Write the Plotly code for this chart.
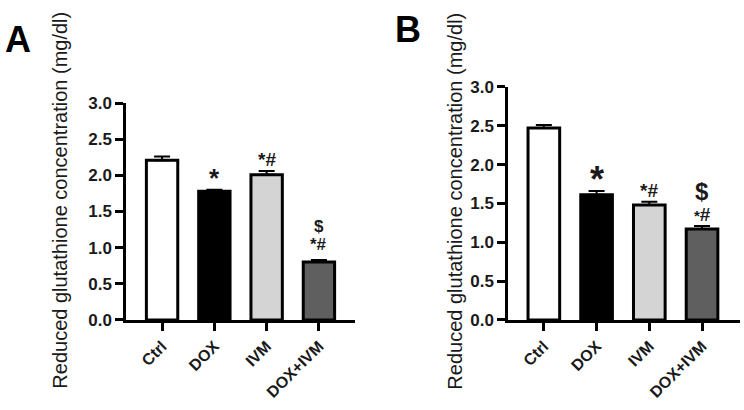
import plotly.graph_objects as go

categories = ["Ctrl", "DOX", "IVM", "DOX+IVM"]
values_a = [2.21, 1.78, 2.01, 0.80]
errors_a = [0.05, 0.02, 0.05, 0.03]
values_b = [2.47, 1.61, 1.48, 1.17]
errors_b = [0.04, 0.05, 0.04, 0.04]
bar_colors = ["#ffffff", "#000000", "#d4d4d4", "#5f5f5f"]
y_ticks = [0.0, 0.5, 1.0, 1.5, 2.0, 2.5, 3.0]
y_title = "Reduced glutathione concentration (mg/dl)"

# significance marks: (category index, y value, text, font size)
marks_a = [(1, 1.96, "*", 26), (2, 2.22, "*#", 19), (3, 1.29, "$", 17), (3, 1.04, "*#", 17)]
marks_b = [(1, 1.81, "*", 36), (2, 1.67, "*#", 19), (3, 1.65, "$", 24),
           (3, 1.36, "<span style='font-size:15px'>*</span>#", 19)]

FONT = "Liberation Sans, Arial, sans-serif"

fig = go.Figure()
for vals, errs, xa, ya in [(values_a, errors_a, "x", "y"), (values_b, errors_b, "x2", "y2")]:
    fig.add_trace(go.Bar(
        x=list(range(len(categories))), y=vals, xaxis=xa, yaxis=ya,
        width=0.6,
        marker=dict(color=bar_colors, line=dict(color="black", width=3)),
        error_y=dict(type="data", array=errs, arrayminus=[0] * len(errs), symmetric=False,
                     color="black", thickness=2, width=8),
        showlegend=False,
    ))

axis_common = dict(showline=True, linecolor="black", linewidth=2.5, ticks="outside",
                   ticklen=8, tickwidth=2.5, tickcolor="black", showgrid=False, zeroline=False)

xtick_font = dict(size=16, family=FONT, weight="bold", color="#1a1a1a")
ytick_font = dict(size=17, family=FONT, weight="bold", color="#1a1a1a")

fig.update_layout(
    width=744, height=410,
    margin=dict(l=0, r=0, t=0, b=0),
    paper_bgcolor="white", plot_bgcolor="white",
    font=dict(family=FONT, color="#1a1a1a"),
    xaxis=dict(domain=[126 / 744, 355 / 744], range=[-0.69, 3.69],
               tickvals=list(range(len(categories))), ticktext=categories, tickangle=-45,
               tickfont=xtick_font, anchor="y", **axis_common),
    yaxis=dict(domain=[1 - 326 / 410, 1 - 98.7 / 410], range=[0, 3], tickvals=y_ticks,
               tickformat=".1f", tickfont=ytick_font, anchor="x", **axis_common),
    xaxis2=dict(domain=[508 / 744, 740 / 744], range=[-0.68, 3.72],
                tickvals=list(range(len(categories))), ticktext=categories, tickangle=-45,
                tickfont=xtick_font, anchor="y2", **axis_common),
    yaxis2=dict(domain=[1 - 326 / 410, 1 - 81.7 / 410], range=[0, 3], tickvals=y_ticks,
                tickformat=".1f", tickfont=ytick_font, anchor="x2", **axis_common),
)

annotations = []
for marks, xr, yr in [(marks_a, "x", "y"), (marks_b, "x2", "y2")]:
    for idx, yv, txt, sz in marks:
        annotations.append(dict(x=idx, y=yv, xref=xr, yref=yr, text="<b>" + txt + "</b>",
                                showarrow=False, xanchor="center", yanchor="middle",
                                font=dict(size=sz, family=FONT, color="#1a1a1a")))

annotations += [
    dict(x=60 / 744, y=1 - 201 / 410, xref="paper", yref="paper", text=y_title, textangle=-90,
         showarrow=False, xanchor="center", yanchor="middle",
         font=dict(size=20, family=FONT, color="#1a1a1a")),
    dict(x=455 / 744, y=1 - 202 / 410, xref="paper", yref="paper", text=y_title, textangle=-90,
         showarrow=False, xanchor="center", yanchor="middle",
         font=dict(size=20, family=FONT, color="#1a1a1a")),
    dict(x=17.5 / 744, y=1 - 31.5 / 410, xref="paper", yref="paper", text="<b>A</b>",
         showarrow=False, xanchor="center", yanchor="middle",
         font=dict(size=36, family=FONT, color="black")),
    dict(x=408 / 744, y=1 - 21.5 / 410, xref="paper", yref="paper", text="<b>B</b>",
         showarrow=False, xanchor="center", yanchor="middle",
         font=dict(size=36, family=FONT, color="black")),
]
fig.update_layout(annotations=annotations)

fig.write_html("out.html")
